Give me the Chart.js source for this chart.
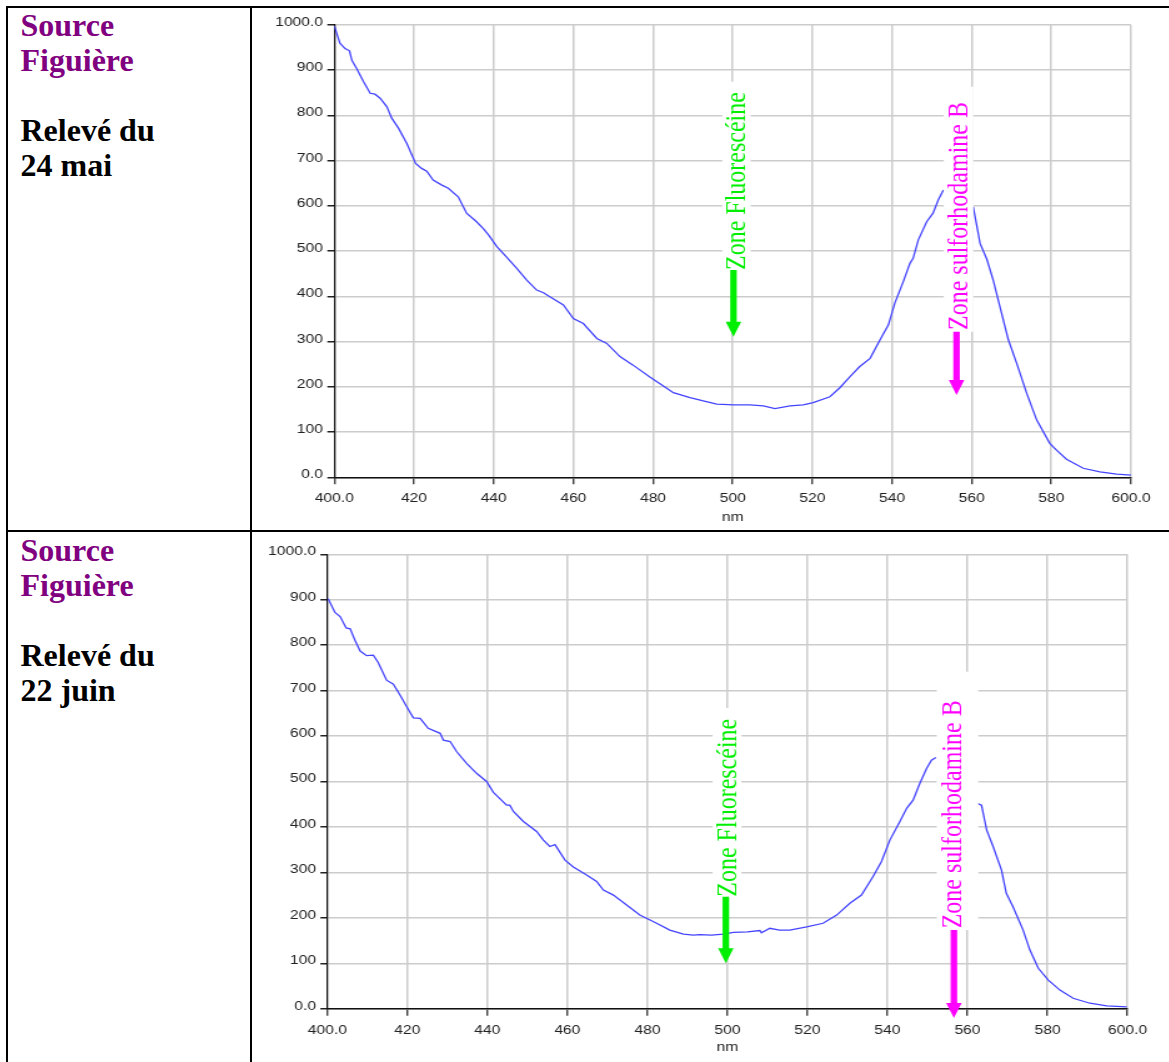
<!DOCTYPE html>
<html><head><meta charset="utf-8">
<script src="https://cdn.jsdelivr.net/npm/chart.js@4.4.1/dist/chart.umd.min.js"></script>
<style>
html,body{margin:0;padding:0;background:#fff;}
body{width:1169px;height:1062px;position:relative;overflow:hidden;}
.ln{position:absolute;background:#000;}
.cell{position:absolute;left:20.5px;font-family:"Liberation Serif","Times New Roman",serif;font-weight:bold;font-size:32px;line-height:35px;color:#000;white-space:nowrap;}
.src{color:#800080;}
canvas{position:absolute;}
</style></head><body>
<div class="ln" style="left:6px;top:6px;width:1163px;height:2px"></div>
<div class="ln" style="left:6px;top:530px;width:1163px;height:2px"></div>
<div class="ln" style="left:6px;top:6px;width:2px;height:1056px"></div>
<div class="ln" style="left:250px;top:6px;width:2px;height:1056px"></div>
<div class="cell" style="top:8.3px"><span class="src">Source<br>Figuière</span><br><br>Relevé du<br>24 mai</div>
<div class="cell" style="top:533.3px"><span class="src">Source<br>Figuière</span><br><br>Relevé du<br>22 juin</div>
<canvas id="c1" width="730" height="519" style="left:254px;top:9px;width:912px;height:519px"></canvas>
<canvas id="c2" width="730" height="528" style="left:254px;top:534px;width:912px;height:528px"></canvas>
<script>
// ---- data ----
const xTickLabels = ['400.0','420','440','460','480','500','520','540','560','580','600.0'];
const yTickLabels = ['0.0','100','200','300','400','500','600','700','800','900','1000.0'];
const axisTitle = 'nm';
const zoneLabels = ['Zone Fluorescéine', 'Zone sulforhodamine B'];

// Relevé du 24 mai
const nm1 = [400.0,401.4,402.7,403.8,404.4,405.6,407.3,409.0,410.2,411.5,413.2,414.4,416.1,418.2,420.4,421.9,423.2,424.8,427.0,428.6,431.1,433.2,435.7,437.4,438.7,440.8,443.3,445.8,448.3,450.8,452.5,454.1,457.5,460.0,462.5,465.9,468.4,471.7,475.0,479.2,482.6,485.1,489.3,492.6,496.0,500.2,504.3,507.7,510.6,514.4,517.7,520.2,524.4,526.9,529.4,531.9,534.5,537.0,539.1,540.7,542.8,544.5,545.3,546.6,548.7,550.3,551.6,552.9,556.5,560.4,562.1,563.8,565.4,567.1,569.2,571.3,573.8,576.3,579.6,581.3,583.8,588.0,592.2,596.4,600.0];
const val1 = [998,960,948,943,922,904,875,849,847,838,819,794,772,738,694,683,677,657,646,639,620,584,565,550,536,510,486,462,436,414,408,399,381,351,340,307,296,267,248,222,202,187,176,169,162,160,160,158,152,158,160,165,178,198,222,245,263,304,337,385,432,473,484,525,565,584,613,635,null,598,517,482,436,377,304,252,186,127,75,60,40,20,12,7,5];

// Relevé du 22 juin
const nm2 = [400.2,401.9,403.2,404.7,405.7,406.9,408.2,409.8,411.5,412.7,414.8,416.5,418.2,419.8,421.5,423.2,425.2,428.2,429.0,430.7,432.3,434.8,437.3,439.8,441.5,444.8,445.6,446.5,449.0,452.3,454.0,455.6,456.9,459.4,461.5,464.8,467.3,469.0,471.5,474.8,478.1,482.3,485.6,489.0,491.5,493.1,496.0,499.0,501.5,505.0,508.1,508.5,510.6,513.0,515.6,519.8,523.9,527.3,530.6,533.5,536.4,538.5,540.6,543.1,544.8,546.4,548.1,549.8,551.0,552.1,557.0,562.4,563.5,564.8,566.4,568.5,569.7,571.4,573.9,575.6,577.7,580.2,583.1,586.4,590.6,594.8,599.8];
const val2 = [902,872,863,838,836,811,787,777,778,762,723,714,690,665,640,639,617,606,591,588,566,540,518,500,476,448,448,434,412,390,371,357,361,327,312,294,280,261,250,228,206,188,173,164,162,163,162,164,168,169,172,167,177,173,173,180,188,206,232,250,291,324,371,412,441,459,496,529,547,553,null,452,448,393,357,305,254,224,173,129,89,63,41,23,12,6,4];

// ---- annotation anchors (in data units) ----
const zones1 = [
  {label: zoneLabels[0], color:'#00ee00', x:500.2, textX:500.7, boxLeft:497.4, boxRight:504.5, boxTop:874.6, boxBottom:458.3, textBottom:458.3, arrowFrom:458.3, arrowTip:311},
  {label: zoneLabels[1], color:'#ff00ff', x:556.2, textX:556.6, boxLeft:553.0, boxRight:560.4, boxTop:863.6, boxBottom:322, textBottom:325.7, arrowFrom:322, arrowTip:182}
];
const zones2 = [
  {label: zoneLabels[0], color:'#00ee00', x:499.6, textX:499.95, boxLeft:496.3, boxRight:503.5, boxTop:661.7, boxBottom:246.5, textBottom:246.5, arrowFrom:246.5, arrowTip:99.9},
  {label: zoneLabels[1], color:'#ff00ff', x:556.6, textX:556.0, boxLeft:552.3, boxRight:562.7, boxTop:741.6, boxBottom:173.2, textBottom:176.9, arrowFrom:173.2, arrowTip:-20.5}
];

const zonesPlugin = {
  id: 'zones',
  afterDatasetsDraw(chart, args, opts) {
    const xs = chart.scales.x, ys = chart.scales.y, ctx = chart.ctx;
    (opts.items || []).forEach(it => {
      const bl = xs.getPixelForValue(it.boxLeft), br = xs.getPixelForValue(it.boxRight);
      const bt = ys.getPixelForValue(it.boxTop), bb = ys.getPixelForValue(it.boxBottom);
      ctx.save();
      ctx.fillStyle = '#ffffff';
      ctx.fillRect(bl, bt, br - bl, bb - bt);
      const tx = xs.getPixelForValue(it.textX), ty = ys.getPixelForValue(it.textBottom);
      ctx.translate(tx, ty);
      ctx.rotate(-Math.PI / 2);
      ctx.font = '24px "Liberation Serif", "Times New Roman", serif';
      ctx.fillStyle = it.color;
      ctx.textAlign = 'left';
      ctx.textBaseline = 'alphabetic';
      ctx.fillText(it.label, 0, 7.6);
      ctx.restore();
      const ax = xs.getPixelForValue(it.x), a0 = ys.getPixelForValue(it.arrowFrom), a1 = ys.getPixelForValue(it.arrowTip);
      const sw = 2.6, hw = 6.2, hl = 15;
      ctx.save();
      ctx.fillStyle = it.color;
      ctx.beginPath();
      ctx.moveTo(ax - sw, a0); ctx.lineTo(ax + sw, a0); ctx.lineTo(ax + sw, a1 - hl);
      ctx.lineTo(ax + hw, a1 - hl); ctx.lineTo(ax, a1); ctx.lineTo(ax - hw, a1 - hl);
      ctx.lineTo(ax - sw, a1 - hl); ctx.closePath(); ctx.fill();
      ctx.restore();
    });
  }
};

const tickFont = {family: '"Liberation Sans", Arial, sans-serif', size: 12.5};

function makeChart(id, nm, vals, zones, g) {
  const pts = nm.map((x, i) => ({x: x, y: vals[i]}));
  return new Chart(document.getElementById(id), {
    type: 'line',
    data: {datasets: [{data: pts, borderColor: '#4444ff', borderWidth: 1.3, pointRadius: 0, tension: 0, spanGaps: false, fill: false}]},
    options: {
      responsive: false, animation: false, devicePixelRatio: 1,
      layout: {padding: {left: 0, right: g.padRight, top: g.padTop, bottom: 0}},
      plugins: {legend: {display: false}, tooltip: {enabled: false}, zones: {items: zones}},
      scales: {
        x: {
          type: 'linear', min: 400, max: 600,
          afterFit: s => { s.height = g.xHeight; },
          ticks: {stepSize: 20, autoSkip: false, maxRotation: 0, padding: 7, color: '#222', font: tickFont,
                  callback: (v, i) => xTickLabels[i]},
          grid: {color: '#cccccc', lineWidth: 1.5, tickLength: 7, tickColor: '#222', tickWidth: 1.2},
          border: {color: '#111', width: 1.5},
          title: {display: true, text: axisTitle, color: '#222', font: tickFont, padding: {top: 0, bottom: g.titlePad}}
        },
        y: {
          min: 0, max: 1000,
          afterFit: s => { s.width = g.yWidth; },
          ticks: {stepSize: 100, padding: 3.5, labelOffset: -2.5, color: '#222', font: tickFont,
                  callback: (v, i) => yTickLabels[i]},
          grid: {color: '#cccccc', lineWidth: 1.5, tickLength: 5.6, tickColor: '#222', tickWidth: 1.5},
          border: {color: '#111', width: 1.2}
        }
      }
    },
    plugins: [zonesPlugin]
  });
}

makeChart('c1', nm1, val1, zones1, {yWidth: 64.3, xHeight: 50.7, padTop: 16, padRight: 28, titlePad: 3});
makeChart('c2', nm2, val2, zones2, {yWidth: 58.7, xHeight: 53.3, padTop: 20.3, padRight: 30.8, titlePad: 6.5});
</script>
</body></html>
